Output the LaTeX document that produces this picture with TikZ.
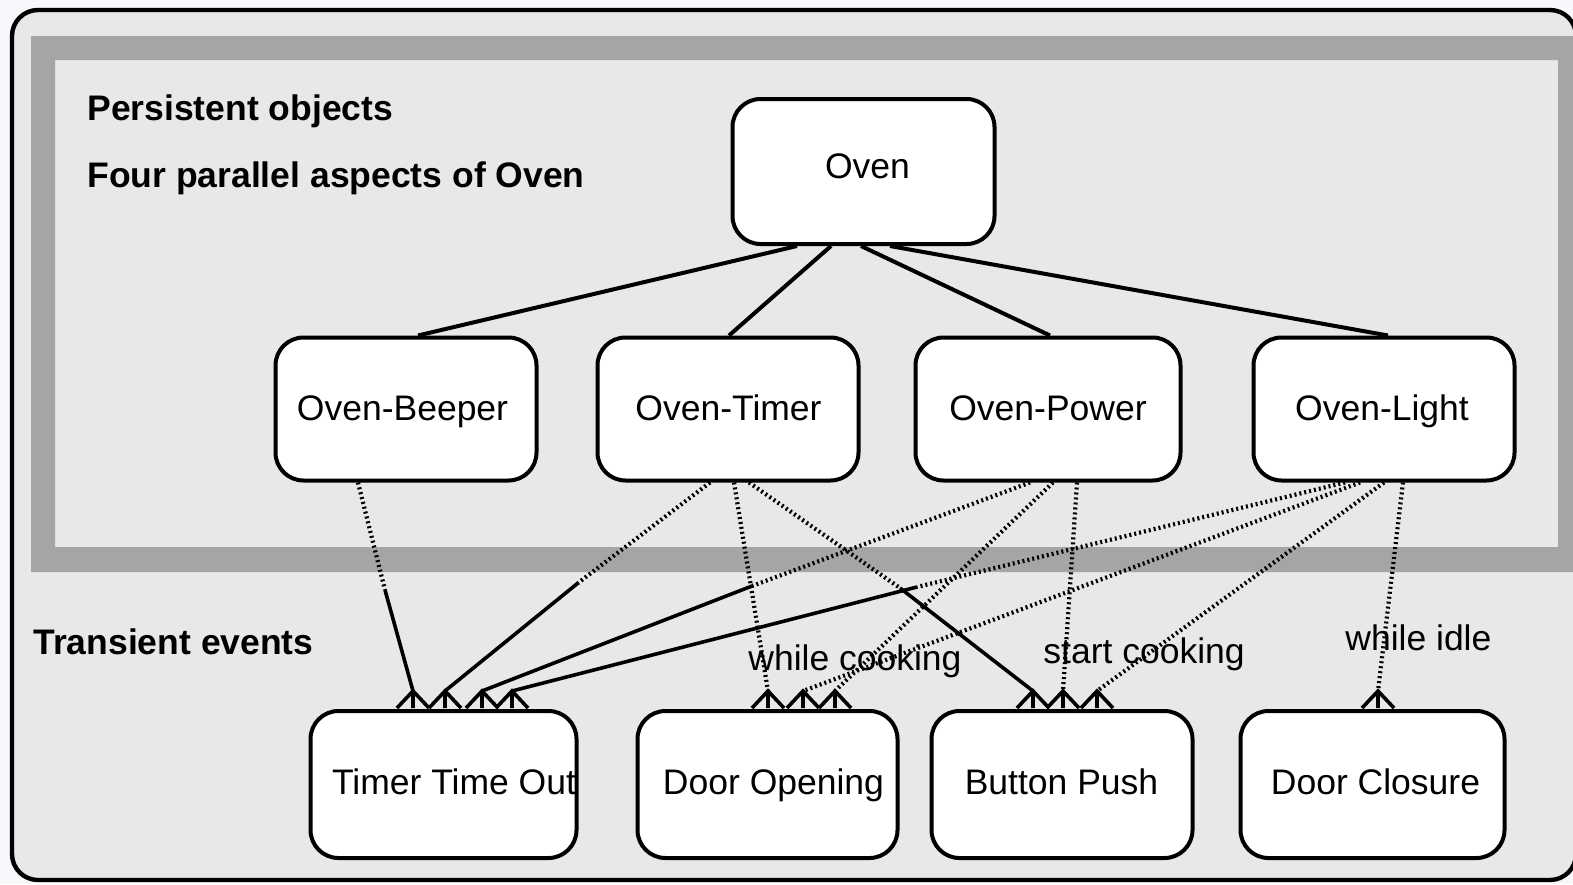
\documentclass[tikz,border=0pt]{standalone}
\usepackage{fontspec}
\setmainfont{Liberation Sans}
\usetikzlibrary{calc}
\definecolor{paper}{RGB}{246,248,251}
\definecolor{screen}{RGB}{232,232,232}
\definecolor{bandgrey}{RGB}{165,165,165}

\begin{document}
\begin{tikzpicture}[x=0.5pt,y=-0.5pt,
  box/.style={draw, line width=2pt, rounded corners=14pt, fill=white, inner sep=0pt},
  lbl/.style={inner sep=0pt, font=\fontsize{17.75}{20}\selectfont},
  head/.style={inner sep=0pt, font=\fontsize{17.75}{20}\selectfont\bfseries},
  tree/.style={line width=2pt},
  solidln/.style={line width=1.8pt},
  dotln/.style={line width=2.1pt, dash pattern=on 1pt off 1.5pt},
  evtip/.pic={\draw[solidln, line join=miter] (-16,17) -- (0,0) -- (16,17) (0,0) -- (0,17);}
]
\useasboundingbox (0,0) rectangle (1573,884);
\fill[paper] (0,0) rectangle (1573,884);

% outer frame, screened ground and the persistent-objects band
\begin{scope}
  \clip (0,0) rectangle (1573,884);
  \fill[screen, rounded corners=13pt] (12,10) rectangle (1576,880);
  \fill[bandgrey, even odd rule] (31,36) rectangle (1585,572) (55,60) rectangle (1558,547);
  \draw[line width=2.2pt, rounded corners=13pt] (12,10) rectangle (1576,880);
\end{scope}

% headings
\node[head, anchor=base west] (h-pers)  at (87,120)  {Persistent objects};
\node[head, anchor=base west] (h-four)  at (87,187)  {Four parallel aspects of Oven};
\node[head, anchor=base west] (h-trans) at (33,654)  {Transient events};

% persistent objects
\node[box, minimum width=131pt,   minimum height=72.5pt] (oven)   at (863.5,171.5) {};
\node[box, minimum width=130.5pt, minimum height=71.5pt] (beeper) at (406,409)   {};
\node[box, minimum width=130.5pt, minimum height=71.5pt] (timer)  at (728,409)   {};
\node[box, minimum width=132.5pt, minimum height=71.5pt] (power)  at (1048,409)  {};
\node[box, minimum width=130.5pt, minimum height=71.5pt] (light)  at (1384,409)  {};

% transient events
\node[box, minimum width=133pt,   minimum height=73.5pt] (tto)    at (443.5,784.5) {};
\node[box, minimum width=130pt,   minimum height=73.5pt] (doorop) at (767.5,784.5) {};
\node[box, minimum width=130.5pt, minimum height=73.5pt] (button) at (1062,784.5)  {};
\node[box, minimum width=132pt,   minimum height=73.5pt] (doorcl) at (1372.5,784.5) {};

% box texts
\node[lbl, anchor=base] (oven-t)   at (867.5,178) {Oven};
\node[lbl, anchor=base] (beeper-t) at (402.5,420) {Oven-Beeper};
\node[lbl, anchor=base] (timer-t)  at (728.5,420) {Oven-Timer};
\node[lbl, anchor=base] (power-t)  at (1048,420)  {Oven-Power};
\node[lbl, anchor=base] (light-t)  at (1382,420)  {Oven-Light};
\node[lbl, anchor=base] (tto-t)    at (454,794)    {Timer Time Out};
\node[lbl, anchor=base] (doorop-t) at (773.5,794)  {Door Opening};
\node[lbl, anchor=base] (button-t) at (1061.5,794) {Button Push};
\node[lbl, anchor=base] (doorcl-t) at (1375.5,794) {Door Closure};

% aggregation tree
\draw[tree] ($(oven.south)+(-66.5,0)$) -- ($(beeper.north)+(12,0)$);
\draw[tree] ($(oven.south)+(-32.5,0)$) -- ($(timer.north)+(1,0)$);
\draw[tree] ($(oven.south)+(-2.5,0)$)  -- ($(power.north)+(2,0)$);
\draw[tree] ($(oven.south)+(26.5,0)$)  -- ($(light.north)+(4,0)$);

% arrow apexes above the event boxes
\coordinate (tto-a1) at ($(tto.north)+(-30.5,-18)$);
\coordinate (tto-a2) at ($(tto.north)+(1.5,-18)$);
\coordinate (tto-a3) at ($(tto.north)+(38.5,-18)$);
\coordinate (tto-a4) at ($(tto.north)+(68.5,-18)$);
\coordinate (dop-a1) at ($(doorop.north)+(0.5,-18)$);
\coordinate (dop-a2) at ($(doorop.north)+(35.5,-18)$);
\coordinate (dop-a3) at ($(doorop.north)+(67.5,-18)$);
\coordinate (btn-a1) at ($(button.north)+(-29,-18)$);
\coordinate (btn-a2) at ($(button.north)+(1,-18)$);
\coordinate (btn-a3) at ($(button.north)+(35,-18)$);
\coordinate (dcl-a1) at ($(doorcl.north)+(5.5,-18)$);

% bend points where the dotted part turns solid
\coordinate (k1) at (385,590);
\coordinate (k2) at (578,583);
\coordinate (k3) at (752,586);
\coordinate (k4) at (917,587);
\coordinate (k6) at (900,588);

% Timer Time Out
\draw[dotln] ($(beeper.south)+(-48,0)$) -- (k1);
\draw[solidln] (k1) -- (tto-a1);
\draw[dotln] ($(timer.south)+(-18,0)$) -- (k2);
\draw[solidln] (k2) -- (tto-a2);
\draw[dotln] ($(power.south)+(-18,0)$) -- (k3);
\draw[solidln] (k3) -- (tto-a3);
\draw[dotln] ($(light.south)+(-39,0)$) -- (k4);
\draw[solidln] (k4) -- (tto-a4);

% Door Opening
\draw[dotln] ($(timer.south)+(6,0)$)   -- (dop-a1);
\draw[dotln] ($(light.south)+(-24,0)$) -- (dop-a2);
\draw[dotln] ($(power.south)+(5,0)$)   -- (dop-a3);

% Button Push
\draw[dotln] ($(timer.south)+(21,0)$) -- (k6);
\draw[solidln] (k6) -- (btn-a1);
\draw[dotln] ($(power.south)+(29,0)$) -- (btn-a2);
\draw[dotln] ($(light.south)+(0,0)$)  -- (btn-a3);

% Door Closure
\draw[dotln] ($(light.south)+(19,0)$) -- (dcl-a1);

% arrowheads
\foreach \a in {tto-a1,tto-a2,tto-a3,tto-a4,dop-a1,dop-a2,dop-a3,btn-a1,btn-a2,btn-a3,dcl-a1}
  \pic at (\a) {evtip};

% connector labels
\node[lbl, anchor=base west] (lab-cook)  at (748,670)  {while cooking};
\node[lbl, anchor=base west] (lab-start) at (1043,663) {start cooking};
\node[lbl, anchor=base west] (lab-idle)  at (1345,650) {while idle};
\end{tikzpicture}
\end{document}
